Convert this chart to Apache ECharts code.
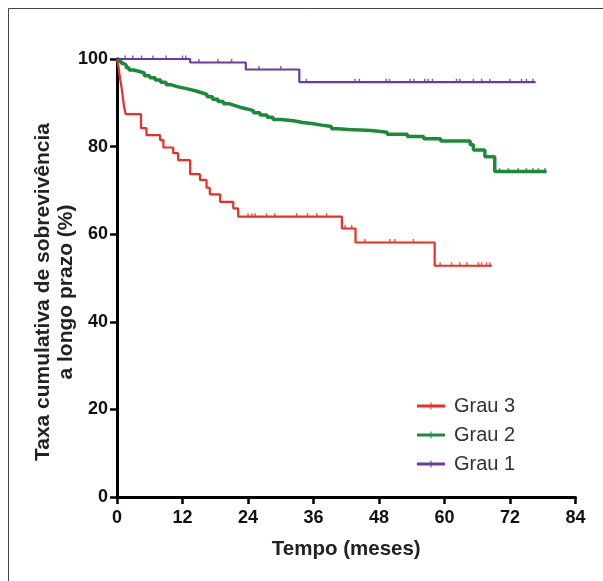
<!DOCTYPE html>
<html><head><meta charset="utf-8">
<script src="https://cdn.jsdelivr.net/npm/echarts@6/dist/echarts.min.js"></script>
<style>html,body{margin:0;padding:0;background:#fff}#c{width:603px;height:581px}</style>
</head><body><div id="c"></div>
<script>
var xTicks = [0, 12, 24, 36, 48, 60, 72, 84];
var yTicks = [0, 20, 40, 60, 80, 100];
var seriesNames = ['Grau 3', 'Grau 2', 'Grau 1'];
var grau3 = [[0,100],[0.3,98],[0.5,96],[0.7,94.5],[0.9,92.9],[1.1,91],[1.3,89.1],[1.6,87.4],[4.4,84.2],[5.4,82.6],[7.9,81.5],[8.5,79.8],[10.3,78.5],[11.2,76.9],[13.4,73.7],[15.2,72.4],[16.4,70.6],[17.0,69.1],[18.9,67.4],[21.3,65.9],[22.2,64.0],[41.2,61.3],[43.7,58.1],[58.2,52.8],[68.7,52.8]];
var grau2 = [[0,100],[0.4,99.5],[0.8,99],[1.2,98.6],[1.7,98.0],[2.2,97.5],[3.0,97.2],[4.0,96.8],[5.0,96.2],[6.0,95.7],[7.0,95.2],[8.0,94.7],[9.0,94.1],[10.0,93.7],[11.0,93.3],[12.5,93.0],[13.5,92.7],[14.5,92.3],[15.5,91.9],[16.5,91.4],[17.5,90.8],[18.5,90.3],[19.5,89.8],[20.5,89.4],[21.5,89.0],[22.5,88.6],[23.8,88.2],[25.0,87.7],[26.2,87.2],[27.5,86.7],[28.6,86.2],[30.0,85.9],[32.3,85.5],[34.0,85.2],[36.0,84.9],[37.5,84.6],[39.3,84.1],[40.5,83.9],[42.4,83.7],[46.6,83.3],[49.5,82.8],[53.2,82.3],[56.2,81.8],[59.3,81.3],[64.7,80.4],[65.3,79.2],[67.4,77.7],[69.2,74.3],[78.7,74.3]];
var grau1 = [[0,100],[13.4,99.2],[23.6,97.6],[33.4,94.7],[76.7,94.7]];
var cens3 = [24.0,24.7,25.3,27.4,28.9,32.9,34.9,36.6,38.4,41.8,43.0,45.4,50.0,50.9,54.3,59.2,61.3,62.8,64.1,66.2,66.8,67.7,68.3];
var cens2 = [70.1,71.7,73.5,75.0,76.2,77.2,78.4];
var cens1 = [1.5,2.9,4.5,6.6,9.0,12.0,12.6,15.0,18.5,21.0,26.0,30.0,34.7,43.6,44.4,49.3,49.9,53.7,54.4,56.4,57.0,57.8,62.2,62.8,65.3,66.8,68.3,72.0,74.1,75.0,76.2];
var colors = ['#ee2e24', '#1b8a3a', '#6a3a9e'];

function atTime(curve, t) {
  var v = curve[0][1];
  for (var i = 0; i < curve.length; i++) { if (curve[i][0] <= t) v = curve[i][1]; }
  return v;
}
function censor(curve, times) { return times.map(function (t) { return [t, atTime(curve, t)]; }); }

var chart = echarts.init(document.getElementById('c'));
var font = 'Liberation Sans, Arial, Helvetica, sans-serif';
var legendIcon = 'path://M0,4 L28,4 L28,7 L0,7 Z M13.5,2 L14.5,2 L14.5,9 L13.5,9 Z';
function lineSeries(name, data, color, width) {
  return { name: name, type: 'line', step: 'end', data: data, showSymbol: false,
    symbol: 'none', color: color,
    lineStyle: { color: color, width: width }, itemStyle: { color: color }, z: 3, animation: false };
}
function censSeries(name, data, color) {
  return { name: name, type: 'scatter', data: data, symbol: 'rect', symbolSize: [1.5, 4], symbolOffset: [0, -1.5],
    itemStyle: { color: color }, z: 4, animation: false, silent: true };
}
chart.setOption({
  animation: false,
  grid: { left: 117, right: 27.5, top: 59, bottom: 84 },
  xAxis: { type: 'value', min: xTicks[0], max: xTicks[xTicks.length - 1], interval: 12,
    axisLine: { lineStyle: { color: '#000', width: 3 } },
    axisTick: { show: true, length: 7, lineStyle: { color: '#000', width: 2.5 } },
    axisLabel: { color: '#111', fontSize: 18, fontWeight: 'bold', fontFamily: font, margin: 12 },
    splitLine: { show: false },
    name: 'Tempo (meses)', nameLocation: 'middle', nameGap: 42,
    nameTextStyle: { color: '#222', fontSize: 20.5, fontWeight: 'bold', fontFamily: font } },
  yAxis: { type: 'value', min: yTicks[0], max: yTicks[yTicks.length - 1], interval: 20,
    axisLine: { show: true, lineStyle: { color: '#000', width: 3 } },
    axisTick: { show: true, length: 7, lineStyle: { color: '#000', width: 2.5 } },
    axisLabel: { color: '#111', fontSize: 18, fontWeight: 'bold', fontFamily: font, margin: 9 },
    splitLine: { show: false } },
  legend: { orient: 'vertical', left: 412, top: 391, itemWidth: 28, itemHeight: 11, itemGap: 9,
    data: seriesNames.map(function (n, i) { return { name: n, icon: legendIcon, itemStyle: { color: colors[i] } }; }),
    textStyle: { color: '#333', fontSize: 20, fontFamily: font, lineHeight: 20, padding: [0, 0, 0, 4] } },
  graphic: [
    { type: 'rect', shape: { x: 8.5, y: 8.5, width: 800, height: 800 }, style: { fill: 'none', stroke: '#444', lineWidth: 1 }, z: 0 },
    { type: 'text', x: 55, y: 292, rotation: Math.PI / 2,
      style: { text: 'Taxa cumulativa de sobrevivência\na longo prazo (%)', fill: '#222', fontSize: 21, fontWeight: 'bold',
        fontFamily: font, align: 'center', verticalAlign: 'middle', lineHeight: 23 } }
  ],
  series: [
    lineSeries(seriesNames[0], grau3, colors[0], 2.2),
    lineSeries(seriesNames[1], grau2, colors[1], 3.5),
    lineSeries(seriesNames[2], grau1, colors[2], 2.2),
    censSeries('c3', censor(grau3, cens3), colors[0]),
    censSeries('c2', censor(grau2, cens2), colors[1]),
    censSeries('c1', censor(grau1, cens1), colors[2])
  ]
});
</script></body></html>
